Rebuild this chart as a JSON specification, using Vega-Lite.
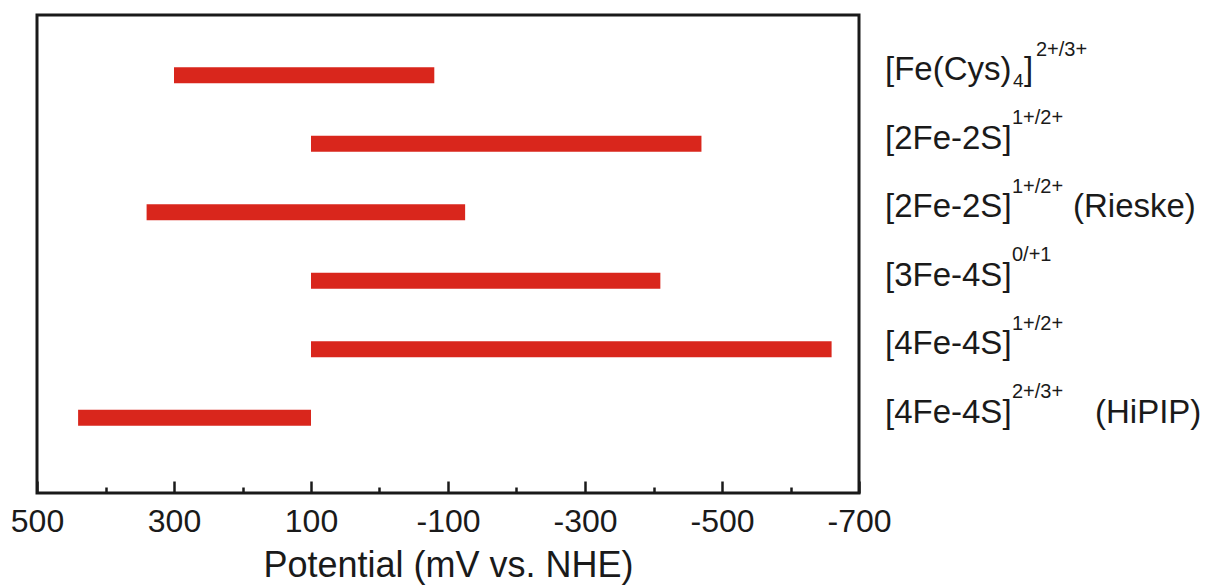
{
  "$schema": "https://vega.github.io/schema/vega-lite/v6.json",
  "width": 822,
  "height": 478,
  "autosize": "none",
  "padding": {"left": 37, "top": 15, "right": 358, "bottom": 94},
  "background": "white",
  "config": {
    "font": "Liberation Sans",
    "view": {"stroke": "#1a1a1a", "strokeWidth": 3},
    "text": {"font": "Liberation Sans", "color": "#1a1a1a"}
  },
  "data": {
    "values": [
      {"name": "FeCys4", "start": 300, "end": -80, "base": "[Fe(Cys)", "sub": "4", "close": "]", "sup": "2+/3+", "suffix": ""},
      {"name": "2Fe2S", "start": 100, "end": -470, "base": "[2Fe-2S]", "sub": "", "close": "", "sup": "1+/2+", "suffix": ""},
      {"name": "Rieske", "start": 340, "end": -125, "base": "[2Fe-2S]", "sub": "", "close": "", "sup": "1+/2+", "suffix": "(Rieske)"},
      {"name": "3Fe4S", "start": 100, "end": -410, "base": "[3Fe-4S]", "sub": "", "close": "", "sup": "0/+1", "suffix": ""},
      {"name": "4Fe4S", "start": 100, "end": -660, "base": "[4Fe-4S]", "sub": "", "close": "", "sup": "1+/2+", "suffix": ""},
      {"name": "HiPIP", "start": 440, "end": 100, "base": "[4Fe-4S]", "sub": "", "close": "", "sup": "2+/3+", "suffix": "(HiPIP)"}
    ]
  },
  "layer": [
    {
      "mark": {"type": "bar", "color": "#d9261c"},
      "encoding": {
        "x": {
          "field": "start", "type": "quantitative",
          "scale": {"domain": [500, -700], "nice": false, "zero": false},
          "axis": {
            "values": [500, 400, 300, 200, 100, 0, -100, -200, -300, -400, -500, -600, -700],
            "labelExpr": "abs(datum.value) % 200 == 100 ? '' + datum.value : ''",
            "tickSize": {"condition": {"test": "abs(datum.value) % 200 == 100", "value": -12}, "value": -6},
            "tickWidth": 2.5,
            "tickColor": "#1a1a1a",
            "domain": false,
            "grid": false,
            "labelFlush": false,
            "labelOverlap": false,
            "labelFont": "Liberation Sans",
            "labelFontSize": 32,
            "labelColor": "#1a1a1a",
            "labelPadding": 25,
            "title": "Potential (mV vs. NHE)",
            "titleFont": "Liberation Sans",
            "titleFontSize": 36,
            "titleFontWeight": "normal",
            "titleColor": "#1a1a1a",
            "titlePadding": 5
          }
        },
        "x2": {"field": "end"},
        "y": {
          "field": "name", "type": "nominal", "sort": null,
          "scale": {"paddingInner": 0.767, "paddingOuter": 0.871, "align": 0.437},
          "axis": null
        }
      }
    },
    {
      "mark": {"type": "text", "align": "left", "baseline": "alphabetic", "fontSize": 33, "dx": 26, "dy": 5},
      "encoding": {
        "x": {"datum": -700, "type": "quantitative"},
        "y": {"field": "name", "type": "nominal", "sort": null},
        "text": {"field": "base"}
      }
    },
    {
      "transform": [{"filter": "datum.name != 'FeCys4'"}],
      "mark": {"type": "text", "align": "left", "baseline": "alphabetic", "fontSize": 20, "dx": 153, "dy": -19.5},
      "encoding": {
        "x": {"datum": -700, "type": "quantitative"},
        "y": {"field": "name", "type": "nominal", "sort": null},
        "text": {"field": "sup"}
      }
    },
    {
      "transform": [{"filter": "datum.name == 'FeCys4'"}],
      "mark": {"type": "text", "align": "left", "baseline": "alphabetic", "fontSize": 20, "dx": 177, "dy": -19.5},
      "encoding": {
        "x": {"datum": -700, "type": "quantitative"},
        "y": {"field": "name", "type": "nominal", "sort": null},
        "text": {"field": "sup"}
      }
    },
    {
      "transform": [{"filter": "datum.name == 'FeCys4'"}],
      "mark": {"type": "text", "align": "left", "baseline": "alphabetic", "fontSize": 19, "dx": 154, "dy": 12},
      "encoding": {
        "x": {"datum": -700, "type": "quantitative"},
        "y": {"field": "name", "type": "nominal", "sort": null},
        "text": {"field": "sub"}
      }
    },
    {
      "transform": [{"filter": "datum.name == 'FeCys4'"}],
      "mark": {"type": "text", "align": "left", "baseline": "alphabetic", "fontSize": 33, "dx": 165, "dy": 5},
      "encoding": {
        "x": {"datum": -700, "type": "quantitative"},
        "y": {"field": "name", "type": "nominal", "sort": null},
        "text": {"field": "close"}
      }
    },
    {
      "transform": [{"filter": "datum.name == 'Rieske'"}],
      "mark": {"type": "text", "align": "left", "baseline": "alphabetic", "fontSize": 33, "dx": 214, "dy": 5},
      "encoding": {
        "x": {"datum": -700, "type": "quantitative"},
        "y": {"field": "name", "type": "nominal", "sort": null},
        "text": {"field": "suffix"}
      }
    },
    {
      "transform": [{"filter": "datum.name == 'HiPIP'"}],
      "mark": {"type": "text", "align": "left", "baseline": "alphabetic", "fontSize": 33, "dx": 236, "dy": 5},
      "encoding": {
        "x": {"datum": -700, "type": "quantitative"},
        "y": {"field": "name", "type": "nominal", "sort": null},
        "text": {"field": "suffix"}
      }
    }
  ]
}
